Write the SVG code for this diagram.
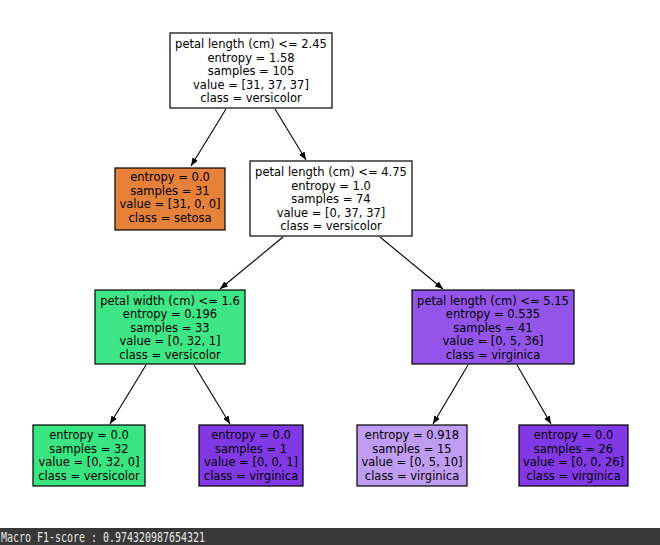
<svg xmlns="http://www.w3.org/2000/svg" width="660" height="545" viewBox="0 0 660 545">
<defs>
<style>
.box{stroke:#000;stroke-width:1.2}
.t{font-family:"DejaVu Sans",sans-serif;font-size:11.5px;fill:#000;text-anchor:middle}
.e{stroke:#000;stroke-width:1.1;fill:none;marker-end:url(#ah)}
.bar{fill:#383838}
.ft{font-family:"DejaVu Sans Mono",monospace;font-size:14px;fill:#e6e6e6}
</style>
<marker id="ah" viewBox="0 0 10 10" refX="10" refY="5" markerWidth="8" markerHeight="8" markerUnits="userSpaceOnUse" orient="auto">
<path d="M0,1 L10,5 L0,9 Z" fill="#000"/>
</marker>
</defs>
<rect width="660" height="545" fill="#fff"/>
<g id="edges">
<line class="e" x1="226" y1="109" x2="191" y2="166"/>
<line class="e" x1="275" y1="109" x2="306" y2="160"/>
<line class="e" x1="283" y1="237" x2="220" y2="289"/>
<line class="e" x1="380" y1="237" x2="443" y2="289"/>
<line class="e" x1="146" y1="365" x2="110" y2="424"/>
<line class="e" x1="194" y1="365" x2="230" y2="424"/>
<line class="e" x1="468" y1="365" x2="433" y2="424"/>
<line class="e" x1="517" y1="365" x2="551" y2="424"/>
</g>
<g id="root">
<rect class="box" x="170" y="33" width="162" height="75" fill="#ffffff"/>
<text class="t" x="251" y="48">petal length (cm) &lt;= 2.45</text>
<text class="t" x="251" y="61.5">entropy = 1.58</text>
<text class="t" x="251" y="75">samples = 105</text>
<text class="t" x="251" y="88.5">value = [31, 37, 37]</text>
<text class="t" x="251" y="102">class = versicolor</text>
</g>
<g id="setosa">
<rect class="box" x="115" y="168" width="110" height="62" fill="#e58139"/>
<text class="t" x="170" y="181">entropy = 0.0</text>
<text class="t" x="170" y="194.5">samples = 31</text>
<text class="t" x="170" y="208">value = [31, 0, 0]</text>
<text class="t" x="170" y="221.5">class = setosa</text>
</g>
<g id="mid">
<rect class="box" x="250" y="161" width="162" height="75" fill="#ffffff"/>
<text class="t" x="331" y="176">petal length (cm) &lt;= 4.75</text>
<text class="t" x="331" y="189.5">entropy = 1.0</text>
<text class="t" x="331" y="203">samples = 74</text>
<text class="t" x="331" y="216.5">value = [0, 37, 37]</text>
<text class="t" x="331" y="230">class = versicolor</text>
</g>
<g id="width16">
<rect class="box" x="95" y="290" width="150" height="74" fill="#3fe685"/>
<text class="t" x="170" y="304.5">petal width (cm) &lt;= 1.6</text>
<text class="t" x="170" y="318">entropy = 0.196</text>
<text class="t" x="170" y="331.5">samples = 33</text>
<text class="t" x="170" y="345">value = [0, 32, 1]</text>
<text class="t" x="170" y="358.5">class = versicolor</text>
</g>
<g id="len515">
<rect class="box" x="412" y="290" width="162" height="74" fill="#9254e9"/>
<text class="t" x="493" y="304.5">petal length (cm) &lt;= 5.15</text>
<text class="t" x="493" y="318">entropy = 0.535</text>
<text class="t" x="493" y="331.5">samples = 41</text>
<text class="t" x="493" y="345">value = [0, 5, 36]</text>
<text class="t" x="493" y="358.5">class = virginica</text>
</g>
<g id="leaf1">
<rect class="box" x="33" y="425" width="112" height="61" fill="#39e581"/>
<text class="t" x="89" y="439">entropy = 0.0</text>
<text class="t" x="89" y="452.5">samples = 32</text>
<text class="t" x="89" y="466">value = [0, 32, 0]</text>
<text class="t" x="89" y="479.5">class = versicolor</text>
</g>
<g id="leaf2">
<rect class="box" x="199" y="425" width="104" height="61" fill="#8139e5"/>
<text class="t" x="251" y="439">entropy = 0.0</text>
<text class="t" x="251" y="452.5">samples = 1</text>
<text class="t" x="251" y="466">value = [0, 0, 1]</text>
<text class="t" x="251" y="479.5">class = virginica</text>
</g>
<g id="leaf3">
<rect class="box" x="357" y="425" width="110" height="61" fill="#c09cf2"/>
<text class="t" x="412" y="439">entropy = 0.918</text>
<text class="t" x="412" y="452.5">samples = 15</text>
<text class="t" x="412" y="466">value = [0, 5, 10]</text>
<text class="t" x="412" y="479.5">class = virginica</text>
</g>
<g id="leaf4">
<rect class="box" x="519" y="425" width="109" height="61" fill="#8139e5"/>
<text class="t" x="573.5" y="439">entropy = 0.0</text>
<text class="t" x="573.5" y="452.5">samples = 26</text>
<text class="t" x="573.5" y="466">value = [0, 0, 26]</text>
<text class="t" x="573.5" y="479.5">class = virginica</text>
</g>
<g id="footer">
<rect class="bar" x="0" y="528" width="660" height="17"/>
<text class="ft" x="1" y="541.5" textLength="204" lengthAdjust="spacingAndGlyphs">Macro F1-score : 0.974320987654321</text>
</g>
</svg>
